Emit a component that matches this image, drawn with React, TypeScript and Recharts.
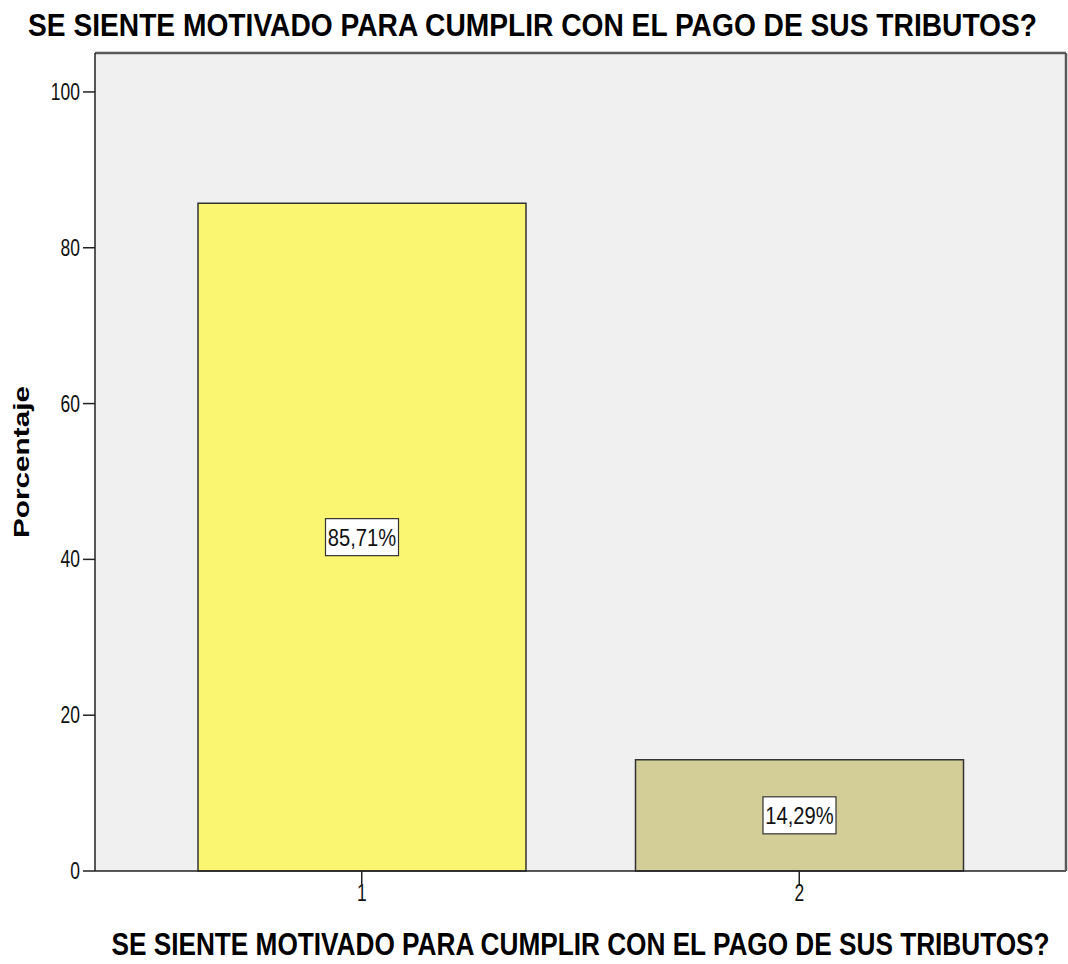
import React from "react";
import { BarChart, Bar, XAxis, YAxis, CartesianGrid, Cell, LabelList } from "recharts";

const categories = ["1", "2"];
const percentages = [85.71, 14.29];
const valueLabels = ["85,71%", "14,29%"];
const barColors = ["#FAF672", "#D3CE97"];
const yTicks = [0, 20, 40, 60, 80, 100];
const titleText = "SE SIENTE MOTIVADO PARA CUMPLIR CON EL PAGO DE SUS TRIBUTOS?";
const xLabelText = "SE SIENTE MOTIVADO PARA CUMPLIR CON EL PAGO DE SUS TRIBUTOS?";
const yLabelText = "Porcentaje";

const data = categories.map((c, i) => ({ cat: c, value: percentages[i], label: valueLabels[i] }));

const FONT = "'Liberation Sans', Arial, sans-serif";
const SX = 0.8;

const YTick = (props: any) => {
  const { x, y, payload } = props;
  return (
    <text
      transform={`translate(${x},${y + 8}) scale(0.76,1)`}
      textAnchor="end"
      fontSize={23}
      fontFamily={FONT}
      fill="#111"
    >
      {payload.value}
    </text>
  );
};

const XTick = (props: any) => {
  const { x, y, payload } = props;
  return (
    <text
      transform={`translate(${x},${y + 17}) scale(0.76,1)`}
      textAnchor="middle"
      fontSize={23}
      fontFamily={FONT}
      fill="#111"
    >
      {payload.value}
    </text>
  );
};

const BoxLabel = (props: any) => {
  const { x, y, width, height, value } = props;
  const cx = x + width / 2;
  const cy = y + height / 2;
  const bw = 73;
  const bh = 37;
  return (
    <g>
      <rect x={cx - bw / 2} y={cy - bh / 2} width={bw} height={bh} fill="#fff" stroke="#333" strokeWidth={1.2} />
      <text
        transform={`translate(${cx},${cy + 8.5}) scale(0.84,1)`}
        textAnchor="middle"
        fontSize={24}
        fontFamily={FONT}
        fill="#111"
      >
        {value}
      </text>
    </g>
  );
};

const XLabel = (props: any) => {
  const vb = props.viewBox || {};
  const cx = vb.x + vb.width / 2;
  return (
    <text
      transform={`translate(${cx},955) scale(${SX},1)`}
      textAnchor="middle"
      fontSize={31}
      fontWeight="bold"
      fontFamily={FONT}
      textLength={938 / SX}
      lengthAdjust="spacingAndGlyphs"
      fill="#000"
    >
      {xLabelText}
    </text>
  );
};

const YLabel = () => {
  return (
    <text
      transform={`translate(29,462) rotate(-90)`}
      textAnchor="middle"
      fontSize={22}
      fontWeight="bold"
      fontFamily={FONT}
      textLength={152}
      lengthAdjust="spacingAndGlyphs"
      fill="#000"
    >
      {yLabelText}
    </text>
  );
};

export default function App() {
  return (
    <div style={{ position: "absolute", left: 0, top: 0, width: 1068, height: 964, background: "#fff" }}>
      <svg width={1068} height={50} style={{ position: "absolute", left: 0, top: 0 }}>
        <text
          transform={`translate(532.5,36) scale(${SX},1)`}
          textAnchor="middle"
          fontSize={32}
          fontWeight="bold"
          fontFamily={FONT}
          textLength={1009 / SX}
          lengthAdjust="spacingAndGlyphs"
          fill="#000"
        >
          {titleText}
        </text>
      </svg>
      <div style={{ position: "absolute", left: 0, top: 0 }}>
        <BarChart
          width={1068}
          height={964}
          data={data}
          margin={{ top: 52, right: 1, bottom: 0, left: 0 }}
          barCategoryGap={55}
        >
          <CartesianGrid horizontal={false} vertical={false} fill="#F0F0F0" />
          <XAxis
            dataKey="cat"
            height={93}
            padding={{ left: 48, right: 48 }}
            tick={<XTick />}
            tickSize={13}
            tickMargin={0}
            axisLine={{ stroke: "#222", strokeWidth: 1.5 }}
            tickLine={{ stroke: "#222", strokeWidth: 1.5 }}
            label={<XLabel />}
          />
          <XAxis
            xAxisId="top"
            orientation="top"
            dataKey="cat"
            height={1}
            tick={false}
            tickLine={false}
            axisLine={{ stroke: "#5a5a5a", strokeWidth: 2.5 }}
          />
          <YAxis
            domain={[0, 105]}
            ticks={yTicks}
            width={95}
            tick={<YTick />}
            tickSize={12}
            tickMargin={3}
            interval={0}
            axisLine={{ stroke: "#222", strokeWidth: 1.5 }}
            tickLine={{ stroke: "#222", strokeWidth: 1.5 }}
            label={<YLabel />}
          />
          <YAxis
            yAxisId="right"
            orientation="right"
            domain={[0, 105]}
            width={1}
            tick={false}
            tickLine={false}
            axisLine={{ stroke: "#5a5a5a", strokeWidth: 2.5 }}
          />
          <Bar dataKey="value" isAnimationActive={false} stroke="#333" strokeWidth={1.5}>
            {data.map((d, i) => (
              <Cell key={d.cat} fill={barColors[i]} />
            ))}
            <LabelList dataKey="label" position="center" content={<BoxLabel />} />
          </Bar>
        </BarChart>
      </div>
    </div>
  );
}
